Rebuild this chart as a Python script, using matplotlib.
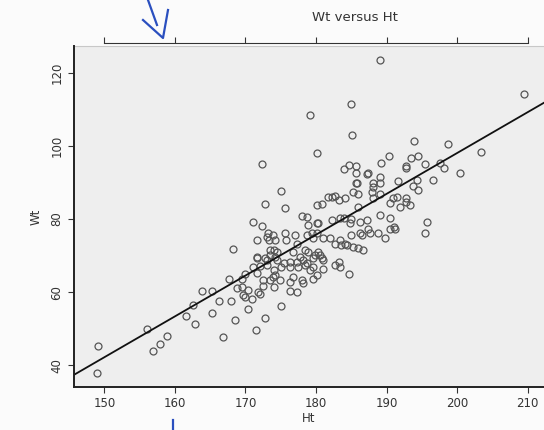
import matplotlib.pyplot as plt
import numpy as np

# heights (cm) and weights (kg)
ht = [189.1, 209.4, 185.0, 179.1, 185.1, 193.9, 198.7, 180.1, 203.4, 190.4,
      193.4, 194.5, 172.3, 189.2, 192.7, 192.7, 195.5, 197.5, 198.1, 200.4,
      184.6, 185.6, 184.0, 185.7, 187.2, 189.1, 189.1, 191.6, 194.3, 196.6,
      185.7, 175.0, 188.1, 193.8, 194.4, 185.3, 186.0, 187.9, 182.7, 181.7,
      184.1, 188.1, 190.9, 192.8,
      185.8, 188.1, 189.1, 191.4, 182.2, 183.2, 187.4,
      172.8, 175.6, 180.1, 180.8, 190.5, 191.9, 192.8, 193.3, 186.0, 178.0,
      178.7, 171.0, 172.3, 178.9, 180.1, 182.2, 183.4, 183.9, 185.0, 186.2,
      187.2, 189.1, 190.5, 191.0, 191.2, 195.7, 195.4, 173.9, 175.6, 177.0,
      171.7, 173.3, 174.2, 175.8, 177.3, 178.7, 179.4, 180.1, 179.6, 181.0,
      182.0, 182.7, 183.4, 184.1, 185.0, 186.2, 187.6, 188.8, 189.7, 185.3,
      186.7, 171.6, 172.8, 173.5, 174.2, 174.0, 174.4, 176.8, 178.4, 178.9,
      179.9, 177.7, 178.2, 180.6, 181.0, 176.3, 177.3, 178.7, 179.6, 171.1,
      172.1, 169.9, 173.0, 174.0, 175.1, 176.3, 177.5, 178.4, 179.6, 181.0,
      182.7, 183.4, 184.7, 168.2, 167.6, 169.5, 174.2, 172.5, 173.5, 174.9,
      176.3, 178.0, 179.6, 180.1, 172.5, 174.0, 171.8, 176.3, 177.3, 178.2,
      169.5, 170.3, 163.9, 165.2, 169.9, 170.9, 166.2, 168.0, 162.6, 161.6,
      162.9, 165.3, 170.3, 175.1, 168.5, 172.8, 171.5, 166.8, 156.0, 158.9,
      157.9, 156.9, 149.1, 149.0,
      173.0, 180.3, 173.5, 174.4, 175.4, 180.3, 180.8, 171.6, 173.9, 176.8,
      179.1, 184.8, 187.4, 190.5, 186.5, 183.6, 184.4, 186.0, 183.2, 169.7,
      168.8, 172.1, 173.2, 171.6, 173.0]
wt = [123.6, 114.2, 111.5, 108.4, 103.0, 101.5, 100.6, 98.2, 98.5, 97.3,
      96.8, 97.4, 95.0, 95.3, 94.6, 93.9, 95.1, 95.3, 94.1, 92.7,
      94.9, 94.6, 93.6, 92.5, 92.3, 91.6, 90.0, 90.4, 90.7, 90.7,
      90.0, 87.7, 88.7, 89.1, 87.9, 87.5, 87.0, 87.5, 86.4, 86.0,
      85.7, 85.7, 85.8, 85.8,
      89.8, 89.8, 87.0, 86.1, 86.1, 85.2, 92.5,
      84.1, 83.0, 83.8, 84.1, 84.5, 83.4, 84.7, 83.8, 83.4, 80.8,
      80.5, 79.1, 78.1, 78.4, 79.0, 79.7, 80.2, 80.4, 79.9, 79.1,
      79.7, 81.1, 80.2, 77.9, 77.2, 79.3, 76.1, 75.6, 76.1, 75.6,
      74.4, 74.2, 74.4, 74.4, 73.3, 75.6, 76.3, 76.1, 74.7, 74.7,
      74.7, 73.3, 74.2, 73.3, 75.6, 76.1, 76.1, 76.1, 74.7, 72.4,
      71.5, 69.7, 69.2, 70.1, 69.7, 71.5, 68.8, 71.1, 71.5, 71.1,
      70.1, 69.7, 68.8, 70.1, 68.9, 68.3, 68.3, 67.9, 69.2, 66.8,
      67.1, 64.9, 67.4, 66.0, 66.8, 66.8, 66.8, 67.4, 66.9, 66.2,
      67.4, 66.8, 64.9, 71.7, 63.7, 63.5, 64.7, 63.3, 63.3, 63.3,
      62.8, 63.3, 63.5, 64.7, 61.6, 61.5, 60.1, 60.4, 60.1, 62.4,
      61.3, 60.7, 60.3, 60.3, 58.7, 58.0, 57.6, 57.6, 56.4, 53.4,
      51.2, 54.2, 55.4, 56.3, 52.3, 53.0, 49.6, 47.8, 50.0, 48.0,
      45.9, 43.9, 45.2, 37.9,
      75.2, 78.8, 71.5, 71.0, 67.9, 71.0, 69.2, 65.1, 64.2, 64.2,
      66.0, 78.8, 77.4, 77.4, 75.6, 72.9, 72.9, 72.0, 68.3, 59.2,
      61.0, 59.6, 76.1, 69.2, 68.8]

# fitted line as drawn in the picture
intercept = -125.7
slope = 1.119

xticks = [150, 160, 170, 180, 190, 200, 210]
yticks = [40, 60, 80, 100, 120]

fig = plt.figure(figsize=(5.44, 4.30), dpi=100, facecolor='#fbfbfb')
ax = fig.add_axes([0.136, 0.10, 0.864, 0.793])
ax.set_facecolor('#eeeeee')

ax.plot(ht, wt, 'o', mfc='none', mec='#555555', ms=5, mew=0.9)
xl = np.array([145.7, 212.5])
ax.plot(xl, intercept + slope * xl, color='#111111', lw=1.3)

ax.set_xlim(145.7, 212.3)
ax.set_ylim(34, 127.4)
ax.set_xticks(xticks)
ax.set_yticks(yticks)
ax.tick_params(axis='x', top=True, labeltop=False, direction='out',
               length=4, labelsize=8.5, colors='#333333')
ax.tick_params(axis='y', direction='out', length=4, labelsize=8.5,
               colors='#333333')
plt.setp(ax.get_yticklabels(), rotation=90, va='center')

for s in ['left', 'bottom']:
    ax.spines[s].set_color('#222222')
    ax.spines[s].set_linewidth(1.4)
ax.spines['right'].set_visible(False)
ax.spines['top'].set_bounds(150, 210)
ax.spines['top'].set_position(('outward', 2))
ax.spines['top'].set_color('#333333')
# faint panel border at the top of the box
ax.plot([0, 1], [1, 1], transform=ax.transAxes, color='#c8c8c8', lw=0.8,
        clip_on=False)

ax.set_xlabel('Ht', fontsize=8.5, color='#333333', labelpad=1)
ax.set_ylabel('Wt', fontsize=8.5, color='#333333', labelpad=6)
fig.text(0.653, 0.96, 'Wt versus Ht', ha='center', va='center',
         fontsize=9.5, color='#333333')

# blue pen marks on the scan
fig.add_artist(plt.Line2D([148 / 544, 157 / 544], [1.0, 1 - 25 / 430],
                          color='#2a4fbf', lw=1.6))
fig.add_artist(plt.Line2D([143 / 544, 163 / 544, 168 / 544],
                          [1 - 20 / 430, 1 - 38 / 430, 1 - 10 / 430],
                          color='#2a4fbf', lw=1.6))
fig.add_artist(plt.Line2D([173 / 544, 173 / 544], [1 - 420 / 430, 0.0],
                          color='#2a4fbf', lw=1.6))

fig.savefig('out.png', dpi=100, facecolor=fig.get_facecolor())
